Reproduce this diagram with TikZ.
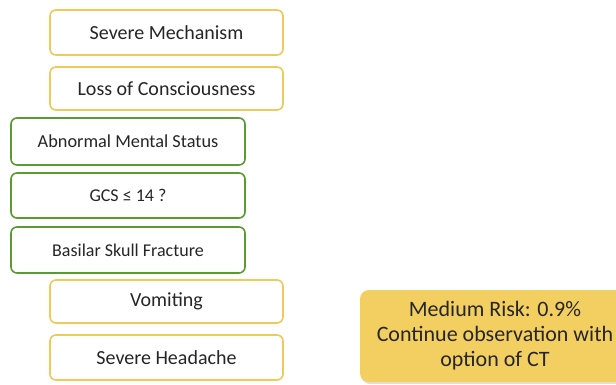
\documentclass[tikz,border=0pt]{standalone}
\usepackage{fontspec}
\setmainfont{Carlito}
\usepackage{tikz}
\usetikzlibrary{positioning, shadows}
\definecolor{ambr}{HTML}{EFC95A}
\definecolor{leaf}{HTML}{5B9A32}
\definecolor{riskfill}{HTML}{F3CF62}
\tikzset{
  crit/.style = {draw, line width=1.6pt, rounded corners=6pt, fill=white,
                 minimum height=45pt, inner sep=0pt, font=\fontsize{20}{22}\selectfont, text=black!85},
  major/.style = {crit, draw=ambr, minimum width=233pt},
  minor/.style = {crit, draw=leaf, minimum width=234pt},
  risk/.style = {rounded corners=9pt, fill=riskfill, minimum width=270pt, minimum height=92pt,
                 align=center, font=\fontsize{22}{25}\selectfont, text=black!85,
                 drop shadow={shadow xshift=1pt, shadow yshift=-2pt, opacity=.25}}
}

\begin{document}
\begin{tikzpicture}[x=1pt, y=-1pt]
\useasboundingbox (0,0) rectangle (616,384);
\clip (0,0) rectangle (616,384);
% criteria
\node[major] (mech)  at (166.5, 32.5) {Severe Mechanism};
\node[major, minimum height=43pt] (loc) at (166.5, 88.5) {Loss of Consciousness};
\node[minor, minimum height=47pt] (ams) at (128, 141.5) {\fontsize{18.3}{20}\selectfont Abnormal Mental Status};
\node[minor] (gcs)   at (128, 195.5) {\fontsize{18}{20}\selectfont GCS ≤ 14 ?};
\node[minor, minimum height=46pt] (skull) at (128, 250) {\fontsize{18}{20}\selectfont Basilar Skull Fracture};
\node[major, minimum height=43pt] (vomit) at (166.5, 301.5) {Vomiting};
\node[major] (head)  at (166.5, 357.5) {Severe Headache};
% outcome
\node[risk] (medrisk) at (495, 336) {Medium Risk: 0.9\%\\Continue observation with\\option of CT};
\end{tikzpicture}
\end{document}
